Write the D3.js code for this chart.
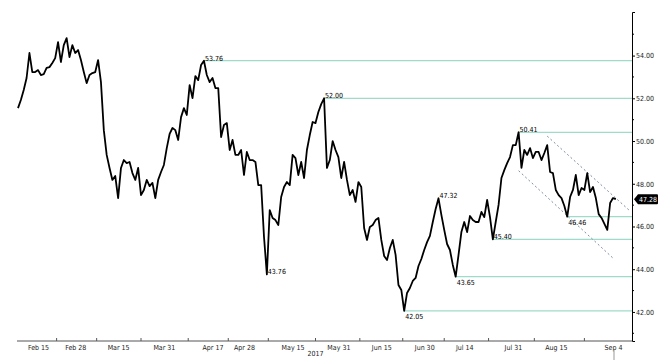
<!DOCTYPE html>
<html>
<head>
<meta charset="utf-8">
<title>Price chart 2017</title>
<script src="https://cdn.jsdelivr.net/npm/d3@7"></script>
<style>
    body { margin: 0; background: #fff; }
    #chart { display: block; font-family: "DejaVu Sans Condensed", "DejaVu Sans", sans-serif; }
</style>
</head>
<body>
<svg id="chart"></svg>
<script>
// one close per calendar day, starting at startDate
const startDate = "2017-02-08";
const closes = [
    51.54, 51.92, 52.39, 52.95, 54.12, 53.23, 53.23, 53.32, 53.09, 53.13,
    53.42, 53.46, 53.65, 53.88, 54.63, 53.70, 54.49, 54.82, 53.93, 54.49,
    54.12, 54.26, 53.79, 53.23, 52.71, 53.09, 53.18, 53.23, 53.79, 52.76,
    50.51, 49.35, 48.74, 48.18, 48.36, 47.33, 48.74, 49.11, 48.97, 49.02,
    48.50, 48.18, 48.74, 47.47, 47.71, 48.18, 47.89, 48.04, 47.33, 48.18,
    48.55, 48.88, 49.67, 50.33, 50.61, 50.51, 50.05, 51.12, 51.54, 51.22,
    52.62, 52.01, 53.04, 52.85, 53.56, 53.76, 53.09, 52.76, 52.95, 52.48,
    52.48, 50.19, 50.75, 50.84, 49.58, 50.05, 49.35, 49.35, 49.58, 48.41,
    49.49, 49.11, 49.11, 49.02, 47.94, 47.94, 45.51, 43.76, 46.77, 46.40,
    46.30, 46.07, 47.38, 47.85, 48.08, 47.94, 49.35, 49.20, 48.41, 49.02,
    48.27, 49.58, 50.28, 50.89, 50.84, 51.36, 51.73, 52.00, 48.74, 49.11,
    50.00, 49.58, 49.25, 48.27, 49.02, 48.18, 47.47, 47.71, 47.15, 48.08,
    47.85, 45.93, 45.37, 45.98, 46.07, 46.30, 46.40, 45.37, 44.62, 44.43,
    44.99, 45.37, 44.67, 43.26, 43.03, 42.05, 42.89, 43.12, 43.45, 43.59,
    44.15, 44.48, 44.90, 45.27, 45.56, 46.21, 46.82, 47.32, 46.54, 45.84,
    45.18, 44.90, 44.20, 43.65, 44.67, 45.74, 46.21, 45.74, 46.49, 46.30,
    46.21, 46.21, 46.68, 46.44, 47.24, 46.44, 45.40, 46.21, 47.01, 48.27,
    48.64, 48.97, 49.25, 49.81, 49.81, 50.41, 48.74, 49.58, 49.35, 49.67,
    49.20, 49.49, 49.49, 49.11, 49.44, 49.81, 48.55, 48.50, 47.71, 47.47,
    47.33, 46.96, 46.46, 47.38, 47.71, 48.41, 47.47, 47.80, 47.71, 48.50,
    47.61, 47.85, 47.33, 46.58, 46.40, 46.12, 45.84, 47.10, 47.33, 47.28
];

const yMajor = [42, 44, 46, 48, 50, 52, 54];
const yMinor = [41, 43, 45, 47, 49, 51, 53, 55];
const tickDates = ["2017-02-15", "2017-02-28", "2017-03-15", "2017-03-31", "2017-04-17",
    "2017-04-28", "2017-05-15", "2017-05-31", "2017-06-15", "2017-06-30", "2017-07-14",
    "2017-07-31", "2017-08-15", "2017-09-04"];
const yearLabel = "2017";

// horizontal support / resistance lines, start at the bar that made them
const levels = [53.76, 52.00, 50.41, 46.46, 45.40, 43.65, 42.05];
// value labels on the turning points
const pointLabels = [53.76, 52.00, 50.41, 47.32, 46.46, 45.40, 43.76, 43.65, 42.05];
const labelsBelow = [46.46, 43.65, 42.05];
// falling channel
const channelUpper = [["2017-08-12", 50.23], ["2017-09-10", 46.72]];
const channelLower = [["2017-08-02", 48.61], ["2017-09-04", 44.52]];

const W = 670, H = 364;
const plotLeft = 17, plotRight = 632, plotTop = 12, plotBottom = 341;
const fontFamily = "\"DejaVu Sans Condensed\", \"DejaVu Sans\", sans-serif";

const parse = d3.utcParse("%Y-%m-%d");
const t0 = parse(startDate);
const data = closes.map((v, i) => ({ date: d3.utcDay.offset(t0, i), value: v }));

const x = d3.scaleUtc()
    .domain([t0, parse("2017-09-04")])
    .range([18, 613]);
const y = d3.scaleLinear()
    .domain([40.64, 56.04])
    .range([plotBottom, plotTop]);

const svg = d3.select("#chart")
    .attr("width", W)
    .attr("height", H)
    .attr("viewBox", [0, 0, W, H]);

// levels
const levelColor = "#9fdbc9";
svg.append("g")
    .selectAll("line")
    .data(levels)
    .join("line")
    .attr("x1", d => x(data[closes.indexOf(d)].date))
    .attr("x2", plotRight)
    .attr("y1", d => y(d))
    .attr("y2", d => y(d))
    .attr("stroke", levelColor)
    .attr("stroke-width", 1.2);

// channel
const chan = d3.line()
    .x(d => x(parse(d[0])))
    .y(d => y(d[1]));
svg.append("g")
    .selectAll("path")
    .data([channelUpper, channelLower])
    .join("path")
    .attr("d", chan)
    .attr("fill", "none")
    .attr("stroke", "#7d8ea3")
    .attr("stroke-width", 1)
    .attr("stroke-dasharray", "2,2.5");

// price line
svg.append("path")
    .datum(data)
    .attr("fill", "none")
    .attr("stroke", "#000")
    .attr("stroke-width", 1.8)
    .attr("stroke-linejoin", "round")
    .attr("d", d3.line().x(d => x(d.date)).y(d => y(d.value)));

// point labels
svg.append("g")
    .attr("font-size", 7)
    .attr("fill", "#000")
    .selectAll("text")
    .data(pointLabels)
    .join("text")
    .attr("x", d => x(data[closes.indexOf(d)].date) + 1)
    .attr("y", d => y(d) + (labelsBelow.includes(d) ? 8 : 0))
    .text(d => d3.format(".2f")(d));

// right axis
const yAxis = svg.append("g")
    .attr("transform", `translate(${plotRight},0)`)
    .call(d3.axisRight(y).tickValues(yMajor).tickFormat(d3.format(".2f"))
        .tickSize(3).tickSizeOuter(3).tickPadding(1));
yAxis.append("g")
    .selectAll("line")
    .data(yMinor)
    .join("line")
    .attr("x2", 2)
    .attr("y1", d => y(d))
    .attr("y2", d => y(d))
    .attr("stroke", "#000");
yAxis.selectAll("text").attr("font-size", 7).attr("fill", "#222")
    .attr("font-family", fontFamily);

// last value tag
const last = data[data.length - 1];
const ty = y(last.value);
const tag = svg.append("g").attr("transform", `translate(${plotRight + 2},${ty})`);
tag.append("path")
    .attr("d", "M0,0 L4,-5 H23 Q24,-5 24,-4 V4 Q24,5 23,5 H4 Z")
    .attr("fill", "#000");
tag.append("text")
    .attr("x", 14)
    .attr("dy", "0.34em")
    .attr("text-anchor", "middle")
    .attr("font-size", 7)
    .attr("fill", "#fff")
    .text(d3.format(".2f")(last.value));

// bottom axis
const xDates = tickDates.map(parse);
svg.append("line")
    .attr("x1", plotLeft).attr("x2", plotRight)
    .attr("y1", plotBottom).attr("y2", plotBottom)
    .attr("stroke", "#555");
const xAxis = svg.append("g")
    .attr("transform", `translate(0,${plotBottom})`)
    .call(d3.axisBottom(x).tickValues(xDates).tickFormat(d3.utcFormat("%b %-d"))
        .tickSize(0).tickPadding(4));
xAxis.select(".domain").remove();
xAxis.selectAll("text").attr("font-size", 7).attr("fill", "#222")
    .attr("font-family", fontFamily);

const mids = d3.pairs(xDates).map(([a, b]) => (x(a) + x(b)) / 2);
svg.append("g")
    .selectAll("line")
    .data(mids)
    .join("line")
    .attr("x1", d => d).attr("x2", d => d)
    .attr("y1", plotBottom - 3).attr("y2", plotBottom)
    .attr("stroke", "#555");

svg.append("text")
    .attr("x", (x(xDates[6]) + x(xDates[7])) / 2)
    .attr("y", 356)
    .attr("text-anchor", "middle")
    .attr("font-size", 7)
    .attr("fill", "#222")
    .text(yearLabel);

// year end marker under last label
svg.append("line")
    .attr("x1", x(xDates[xDates.length - 1]) + 1)
    .attr("x2", x(xDates[xDates.length - 1]) + 1)
    .attr("y1", 350).attr("y2", 360)
    .attr("stroke", "#999");
</script>
</body>
</html>
